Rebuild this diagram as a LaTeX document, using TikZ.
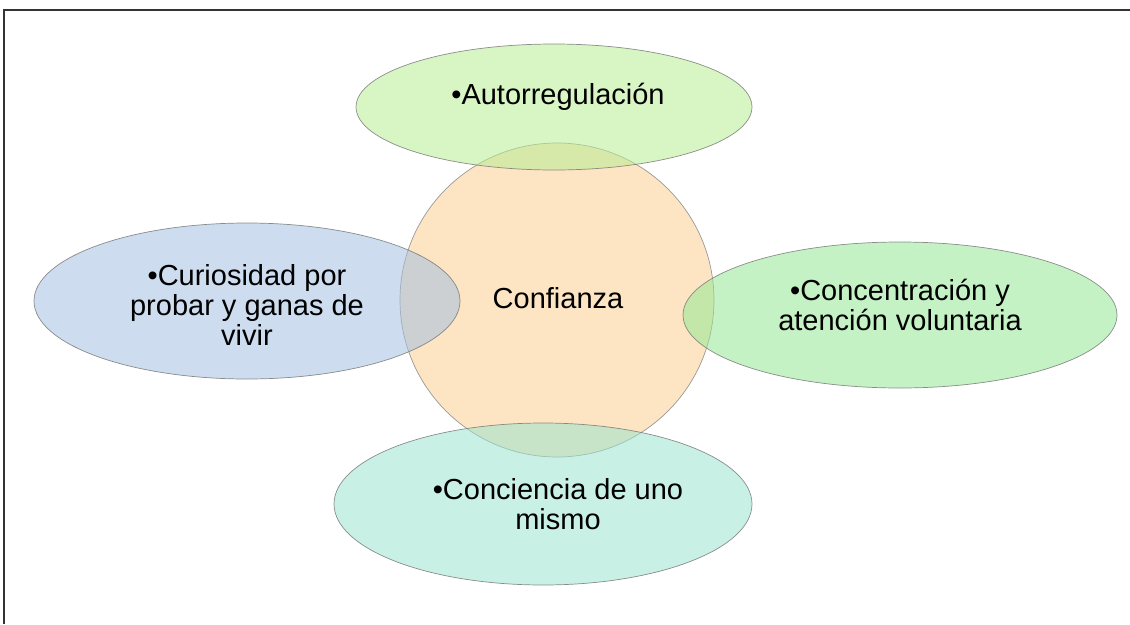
\documentclass[tikz,border=0pt]{standalone}
\usepackage{fontspec}
\setmainfont{Liberation Sans}
\usetikzlibrary{shapes.geometric}

\definecolor{peach}{RGB}{253,229,195}
\definecolor{limeleaf}{RGB}{184,237,148}
\definecolor{skyleaf}{RGB}{164,191,224}
\definecolor{mintleaf}{RGB}{148,231,148}
\definecolor{aqualeaf}{RGB}{155,228,206}

\begin{document}
\begin{tikzpicture}
		[x=1pt, y=-1pt,
		 petal/.style={ellipse, draw=black!55, line width=0.7pt, fill opacity=0.55, draw opacity=0.8, inner sep=0pt},
		 lbl/.style={align=center, font=\fontsize{29}{30}\selectfont}]
		\useasboundingbox (0,0) rectangle (1130,624);
		\draw[line width=1.3pt, black!80] (1130,10) -- (4,10) -- (4,624);

		\node[circle, draw=black!40, line width=0.7pt, fill=peach, minimum size=314pt, inner sep=0pt] (conf) at (557,300) {};
		\node[petal, fill=limeleaf, minimum width=396pt, minimum height=126pt] (autoE) at (554,107) {};
		\node[petal, fill=skyleaf, minimum width=426pt, minimum height=156pt] (curiE) at (247,301) {};
		\node[petal, fill=mintleaf, minimum width=434pt, minimum height=146pt] (concE) at (900,315) {};
		\node[petal, fill=aqualeaf, minimum width=418pt, minimum height=162pt] (concienE) at (543,504) {};

		\node[lbl, anchor=base] (confT) at (558,308) {Confianza};
		\node[lbl, anchor=base] (autoT) at (558,104) {\textbullet Autorregulación};
		\node[lbl] (curiT) at (247,305) {\textbullet Curiosidad por\\probar y ganas de\\vivir};
		\node[lbl] (concT) at (900,305) {\textbullet Concentración y\\atención voluntaria};
		\node[lbl] (concienT) at (558,504) {\textbullet Conciencia de uno\\mismo};
	\end{tikzpicture}
\end{document}
